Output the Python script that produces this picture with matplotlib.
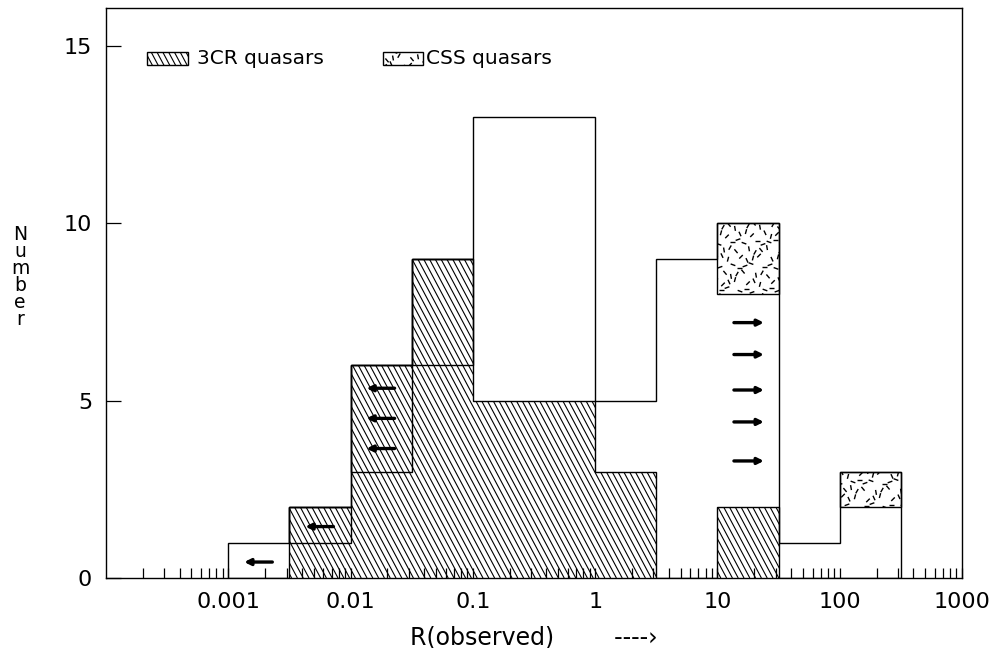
import numpy as np
import matplotlib.pyplot as plt
from matplotlib.patches import Rectangle
from matplotlib.collections import LineCollection
from matplotlib.ticker import FixedLocator, FixedFormatter, LogLocator, NullFormatter

# half-decade bins in log10 R(observed)
log_edges = [-3.0, -2.5, -2.0, -1.5, -1.0, -0.5, 0.0, 0.5, 1.0, 1.5, 2.0, 2.5]
# whole sample (open outline), CSS quasars are stacked on top of it
all_q = [1, 2, 6, 9, 13, 13, 5, 9, 8, 1, 2]
css_q = [0, 0, 0, 0, 0, 0, 0, 0, 2, 0, 1]
# 3CR quasars: measured values only, and measured + upper limits
tcr_det = [0, 1, 3, 6, 5, 5, 3, 0, 2, 0, 0]
tcr_all = [0, 2, 6, 9, 5, 5, 3, 0, 2, 0, 0]
# limit arrows as (bin index, height)
upper_lim = [(0, 0.45), (1, 1.45), (2, 3.65), (2, 4.5), (2, 5.35)]
lower_lim = [(8, 3.3), (8, 4.4), (8, 5.3), (8, 6.3), (8, 7.2)]

tick_vals = [1e-3, 1e-2, 1e-1, 1, 10, 100, 1000]
tick_labels = ['0.001', '0.01', '0.1', '1', '10', '100', '1000']

fig = plt.figure(figsize=(9.94, 6.48), dpi=100)
ax = fig.add_axes([106 / 994, 70 / 648, 856 / 994, 570 / 648])
ax.set_xscale('log')
ax.set_xlim(1e-4, 1e3)
ax.set_ylim(0, 16.07)
ax.set_axisbelow(False)

W, H = 856.0, 570.0  # axes size in pixels, used for the fill textures

# diagonal hatching, drawn as lines clipped to a patch
run = H / np.tan(np.radians(62))
hatch_segs = [[(c / W, 1.0), ((c + run) / W, 0.0)]
              for c in np.arange(-run, W + 6, 5.8)]

# short scattered strokes for the CSS fill
stroke_angles = [20, 75, 130, 160, 45, 100, 0, 115, 60]
dash_segs = []
for i, gx in enumerate(np.arange(0, W, 8)):
    for j, gy in enumerate(np.arange(0, H, 8)):
        a = np.radians(stroke_angles[(3 * i + 7 * j) % len(stroke_angles)])
        cx = gx + ((5 * i + 2 * j) % 7 - 3) * 1.0
        cy = gy + ((2 * i + 3 * j) % 5 - 2) * 1.2
        dx, dy = 2.5 * np.cos(a), 2.5 * np.sin(a)
        dash_segs.append([((cx - dx) / W, (cy - dy) / H), ((cx + dx) / W, (cy + dy) / H)])


def fill_with(patch, segs, lw):
    lc = LineCollection(segs, colors='black', linewidths=lw,
                        transform=ax.transAxes, zorder=patch.get_zorder() + 0.05)
    ax.add_collection(lc, autolim=False)
    lc.set_clip_path(patch)


edges = 10.0 ** np.array(log_edges)
widths = np.diff(edges)
total = np.array(all_q) + np.array(css_q)

# 3CR quasars, hatched
h3 = ax.stairs(tcr_all, edges, baseline=0, fill=True, facecolor='white',
               edgecolor='black', lw=1.0, zorder=1)
fill_with(h3, hatch_segs, 0.8)

# boxes around the upper-limit part of the 3CR bins
for i in range(len(tcr_all)):
    if tcr_all[i] > tcr_det[i]:
        ax.add_patch(Rectangle((edges[i], tcr_det[i]), widths[i], tcr_all[i] - tcr_det[i],
                               fill=False, edgecolor='black', lw=1.0, zorder=1.2))

# CSS quasars on top of the whole sample
for i in range(len(css_q)):
    if css_q[i] > 0:
        r = ax.add_patch(Rectangle((edges[i], all_q[i]), widths[i], css_q[i],
                                   facecolor='white', edgecolor='black', lw=1.0, zorder=1.5))
        fill_with(r, dash_segs, 1.0)

# outline of the whole sample
ax.stairs(total, edges, baseline=0, fill=False, color='black', lw=1.0, zorder=2)

# limit arrows
arrow_kw = dict(arrowstyle='-|>', color='black', lw=2.4, mutation_scale=9,
                shrinkA=0, shrinkB=0)
for i, y in upper_lim:
    c = (log_edges[i] + log_edges[i + 1]) / 2
    ax.annotate('', xy=(10 ** (c - 0.12), y), xytext=(10 ** (c + 0.11), y),
                arrowprops=arrow_kw, zorder=3)
for i, y in lower_lim:
    c = (log_edges[i] + log_edges[i + 1]) / 2
    ax.annotate('', xy=(10 ** (c + 0.13), y), xytext=(10 ** (c - 0.115), y),
                arrowprops=arrow_kw, zorder=3)

# legend drawn by hand
sw1 = ax.add_patch(Rectangle((41 / W, 513 / H), 41 / W, 13 / H, transform=ax.transAxes,
                             facecolor='white', edgecolor='black', lw=1.0, zorder=2))
fill_with(sw1, hatch_segs, 0.8)
sw2 = ax.add_patch(Rectangle((277 / W, 513 / H), 40 / W, 13 / H, transform=ax.transAxes,
                             facecolor='white', edgecolor='black', lw=1.0, zorder=2))
fill_with(sw2, dash_segs, 1.0)
ax.text(91 / W, 519.5 / H, '3CR quasars', transform=ax.transAxes,
        fontsize=14.5, va='center', ha='left')
ax.text(320 / W, 519.5 / H, 'CSS quasars', transform=ax.transAxes,
        fontsize=14.5, va='center', ha='left')

# axes and ticks
ax.xaxis.set_major_locator(FixedLocator(tick_vals))
ax.xaxis.set_major_formatter(FixedFormatter(tick_labels))
ax.xaxis.set_minor_locator(LogLocator(base=10, subs=np.arange(2, 10), numticks=50))
ax.xaxis.set_minor_formatter(NullFormatter())
ax.tick_params(axis='x', which='both', direction='in', length=7, width=0.9,
               top=False, labelsize=16, pad=10)
ax.set_yticks([0, 5, 10, 15])
ax.tick_params(axis='y', direction='in', length=11, width=0.9, right=False,
               labelsize=16, pad=10)
for s in ax.spines.values():
    s.set_linewidth(1.0)

ax.set_xlabel('R(observed)        ----\u203a', fontsize=17, va='center')
ax.xaxis.set_label_coords(0.5, -(637 - 578) / H)
ax.set_ylabel('N\nu\nm\nb\ne\nr', rotation=0, fontsize=13.5, linespacing=0.86,
              ha='center', va='center')
ax.yaxis.set_label_coords(-(106 - 20) / W, (578 - 277) / H)

fig.savefig('out.png', dpi=100)
